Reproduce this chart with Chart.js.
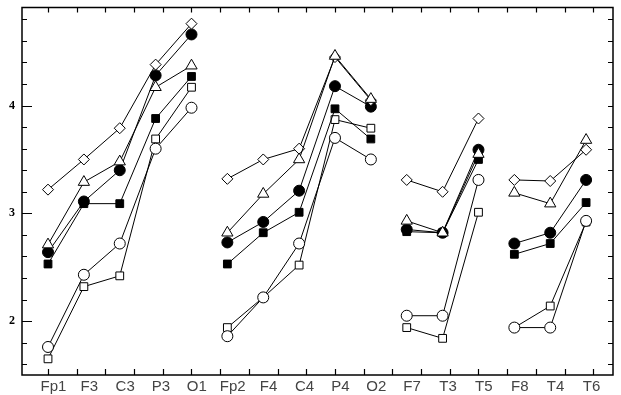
<!DOCTYPE html>
<html>
<head>
<meta charset="utf-8">
<script src="https://cdn.jsdelivr.net/npm/chart.js@4"></script>
<style>
  html, body { margin: 0; padding: 0; background: #fff; }
  #wrap { width: 621px; height: 395px; }
</style>
</head>
<body>
<div id="wrap"><canvas id="mainChart"></canvas></div>
<script>
// electrode sites, in plotted order
const sites = ['Fp1', 'F3', 'C3', 'P3', 'O1', 'Fp2', 'F4', 'C4', 'P4', 'O2', 'F7', 'T3', 'T5', 'F8', 'T4', 'T6'];
const groupEnds = [4, 9, 12]; // line breaks after these indices

const diamondVals      = [3.22, 3.50, 3.79, 4.38, 4.76, 3.32, 3.50, 3.60, 4.45, 4.05, 3.31, 3.20, 3.88, 3.31, 3.30, 3.59];
const filledCircleVals = [2.64, 3.11, 3.40, 4.28, 4.66, 2.73, 2.92, 3.21, 4.18, 3.99, 2.85, 2.82, 3.59, 2.72, 2.82, 3.31];
const triangleVals     = [2.71, 3.29, 3.48, 4.17, 4.37, 2.82, 3.18, 3.50, 4.46, 4.06, 2.93, 2.82, 3.55, 3.19, 3.09, 3.68];
const filledSquareVals = [2.53, 3.09, 3.09, 3.88, 4.27, 2.53, 2.82, 3.01, 3.97, 3.69, 2.83, 2.82, 3.50, 2.62, 2.72, 3.10];
const openSquareVals   = [1.65, 2.32, 2.42, 3.69, 4.17, 1.94, 2.22, 2.52, 3.87, 3.79, 1.94, 1.84, 3.01, 1.94, 2.14, 2.92];
const openCircleVals   = [1.76, 2.43, 2.72, 3.60, 3.98, 1.86, 2.22, 2.72, 3.70, 3.50, 2.05, 2.05, 3.31, 1.94, 1.94, 2.93];

const yLabels = [2, 3, 4];

// turn a value array into x/y points with a null between electrode groups
function toPoints(vals) {
  const pts = [];
  vals.forEach((v, i) => {
    pts.push({ x: i, y: v });
    if (groupEnds.includes(i)) pts.push({ x: i + 0.5, y: null });
  });
  return pts;
}

function series(vals, style, filled, radius) {
  return {
    data: toPoints(vals),
    borderColor: '#000',
    borderWidth: 1,
    pointStyle: style,
    pointRadius: radius,
    pointBorderWidth: 1,
    pointBorderColor: '#000',
    pointBackgroundColor: filled ? '#000' : '#fff',
    spanGaps: false,
    tension: 0
  };
}

// inward ticks on all four sides + frame
const frameTicks = {
  id: 'frameTicks',
  afterDatasetsDraw(chart) {
    const { ctx, chartArea: a, scales: { x, y } } = chart;
    ctx.save();
    ctx.strokeStyle = '#000';
    ctx.lineWidth = 1.5;
    ctx.strokeRect(a.left, a.top, a.right - a.left, a.bottom - a.top);
    ctx.lineWidth = 1.2;
    ctx.beginPath();
    for (let k = 0; k < 20; k++) {
      const px = Math.round(x.getPixelForValue(k * 0.8)) + 0.5;
      ctx.moveTo(px, a.bottom); ctx.lineTo(px, a.bottom - 6);
      ctx.moveTo(px, a.top); ctx.lineTo(px, a.top + 5);
    }
    for (let k = 8; k <= 24; k++) {
      const v = k / 5;
      const py = Math.round(y.getPixelForValue(v)) + 0.5;
      const major = k % 5 === 0;
      ctx.moveTo(a.left, py); ctx.lineTo(a.left + (major ? 10 : 5), py);
      ctx.moveTo(a.right, py); ctx.lineTo(a.right - 5, py);
    }
    ctx.stroke();
    ctx.restore();
  }
};

new Chart(document.getElementById('mainChart'), {
  type: 'line',
  data: {
    datasets: [
      series(triangleVals, 'triangle', false, 6.5),
      series(diamondVals, 'rectRot', false, 5.5),
      series(filledCircleVals, 'circle', true, 5.5),
      series(filledSquareVals, 'rect', true, 5.5),
      series(openCircleVals, 'circle', false, 5.5),
      series(openSquareVals, 'rect', false, 5.5)
    ]
  },
  options: {
    responsive: true,
    maintainAspectRatio: false,
    animation: false,
    layout: { padding: { left: 0, right: 8, top: 4, bottom: 0 } },
    plugins: {
      legend: { display: false },
      tooltip: { enabled: false }
    },
    scales: {
      x: {
        type: 'linear',
        min: -0.725,
        max: 15.75,
        grid: { display: false, drawTicks: false },
        border: { display: false },
        afterBuildTicks: scale => {
          scale.ticks = sites.map((s, i) => ({ value: i + 0.15 }));
        },
        afterFit: scale => {
          scale.height = 20;
          scale.paddingLeft = 0;
          scale.paddingRight = 0;
        },
        ticks: {
          autoSkip: false,
          maxRotation: 0,
          padding: 3,
          color: '#444',
          font: { family: 'Liberation Sans', size: 15 },
          callback: (v, i) => sites[i]
        }
      },
      y: {
        min: 1.5,
        max: 4.91,
        grid: { display: false, drawTicks: false },
        border: { display: false },
        afterBuildTicks: scale => {
          scale.ticks = yLabels.map(v => ({ value: v }));
        },
        afterFit: scale => {
          scale.width = 22;
          scale.paddingTop = 0;
          scale.paddingBottom = 0;
        },
        ticks: {
          padding: 7,
          color: '#000',
          font: { family: 'Liberation Serif', size: 12, weight: 'bold' },
          callback: v => String(v)
        }
      }
    }
  },
  plugins: [frameTicks]
});
</script>
</body>
</html>
